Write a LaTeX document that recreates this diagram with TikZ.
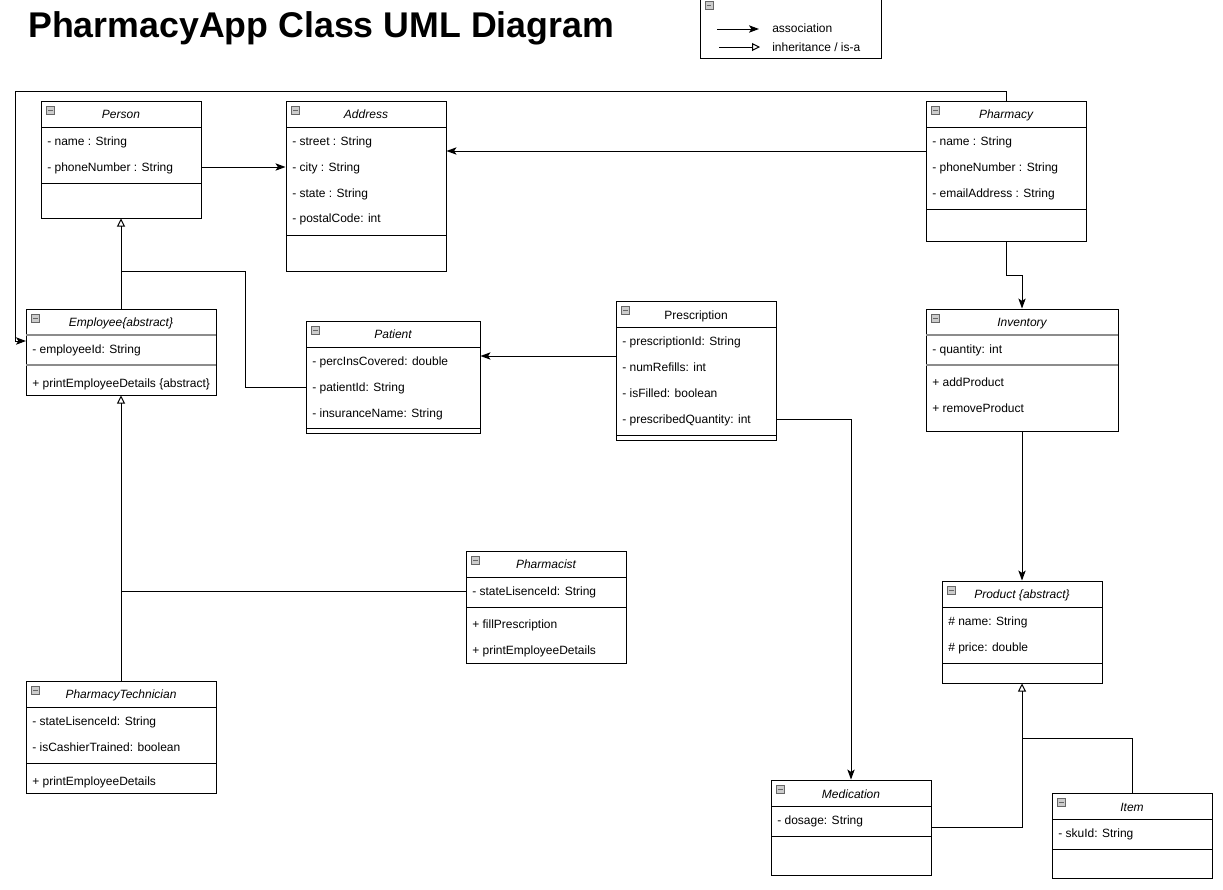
\documentclass[tikz,border=0pt]{standalone}
\usepackage{fontspec}
\setmainfont{Liberation Sans}
\usetikzlibrary{arrows.meta, positioning, fit, calc}
\tikzset{
    classbox/.style={
        rectangle,
        draw=black,
        line width=0.75pt,
        inner sep=0pt
    },
    classname/.style={
        inner sep=0pt,
        text height=7pt,
        text depth=0.4pt,
        font=\fontsize{9}{11}\selectfont\itshape
    },
    member/.style={
        anchor=west,
        inner sep=0pt,
        text height=7pt,
        text depth=0.4pt,
        font=\fontsize{9}{11}\selectfont
    },
    divider/.style={
        draw=black,
        line width=0.75pt
    },
    heavydivider/.style={
        draw=black!45,
        line width=1.5pt
    },
    toggle/.style={
        rectangle,
        draw=black!60,
        fill=black!20,
        line width=0.6pt,
        minimum size=6pt,
        inner sep=0pt,
        path picture={\draw[line width=0.7pt] ([xshift=1.2pt]path picture bounding box.west) -- ([xshift=-1.2pt]path picture bounding box.east);}
    },
    assoc/.style={
        draw=black,
        line width=0.75pt,
        -{Stealth[length=7.5pt, width=5.5pt, inset=1.8pt]}
    },
    inherit/.style={
        draw=black,
        line width=0.75pt,
        -{Triangle[open, length=6pt, width=6pt]}
    },
    joinline/.style={
        draw=black,
        line width=0.75pt
    }
}

\begin{document}
\begin{tikzpicture}[x=0.75pt, y=-0.75pt]
\useasboundingbox (0,0) rectangle (1223,889);

% Title
\node[anchor=base west, inner sep=0pt, font=\fontsize{26.8}{31}\selectfont\bfseries] (title) at (28,37) {PharmacyApp Class UML Diagram};

% Legend
\node[classbox, fit={(700,-1) (881,58)}] (legend) {};
\node[toggle] (legend-tg) at (709,5) {};
\coordinate (lg-a1) at (717,29);
\coordinate (lg-a2) at (759,29);
\draw[assoc] (lg-a1) -- (lg-a2);
\node[member] (lg-assoc) at (772,28) {association};
\coordinate (lg-i1) at (719,47);
\coordinate (lg-i2) at (760,47);
\draw[inherit] (lg-i1) -- (lg-i2);
\node[member] (lg-inh) at (772,47) {inheritance / is-a};

% Person
\node[classbox, fit={(41,101) (201,218)}] (person) {};
\node[toggle] (person-tg) at (50.5,110) {};
\node[classname] (person-title) at (121,114) {Person};
\draw[divider] (41,127) -- (201,127);
\node[member] (p-name) at (47,141) {- name : String};
\node[member] (p-phone) at (47,167) {- phoneNumber : String};
\draw[divider] (41,183) -- (201,183);

% Address
\node[classbox, fit={(286,101) (446,271)}] (address) {};
\node[toggle] (address-tg) at (295.5,110) {};
\node[classname] (address-title) at (366,114) {Address};
\draw[divider] (286,127) -- (446,127);
\node[member] (a-street) at (292,141) {- street : String};
\node[member] (a-city) at (292,167) {- city : String};
\node[member] (a-state) at (292,193) {- state : String};
\node[member] (a-postal) at (292,218) {- postalCode: int};
\draw[divider] (286,235) -- (446,235);

% Pharmacy
\node[classbox, fit={(926,101) (1086,241)}] (pharmacy) {};
\node[toggle] (pharmacy-tg) at (935.5,110) {};
\node[classname] (pharmacy-title) at (1006,114) {Pharmacy};
\draw[divider] (926,127) -- (1086,127);
\node[member] (ph-name) at (932,141) {- name : String};
\node[member] (ph-phone) at (932,167) {- phoneNumber : String};
\node[member] (ph-email) at (932,193) {- emailAddress : String};
\draw[divider] (926,209) -- (1086,209);

% Employee
\node[classbox, fit={(26,309) (216,395)}] (employee) {};
\node[toggle] (employee-tg) at (35.5,318) {};
\node[classname] (employee-title) at (121,322) {Employee\{abstract\}};
\draw[heavydivider] (26,335) -- (216,335);
\node[member] (e-id) at (32,349) {- employeeId: String};
\draw[heavydivider] (26,365) -- (216,365);
\node[member] (e-print) at (32,383) {+ printEmployeeDetails \{abstract\}};

% Patient
\node[classbox, fit={(306,321) (480,433)}] (patient) {};
\node[toggle] (patient-tg) at (315.5,330) {};
\node[classname] (patient-title) at (393,334) {Patient};
\draw[divider] (306,347) -- (480,347);
\node[member] (pa-perc) at (312,361) {- percInsCovered: double};
\node[member] (pa-id) at (312,387) {- patientId: String};
\node[member] (pa-ins) at (312,413) {- insuranceName: String};
\draw[divider] (306,428) -- (480,428);

% Prescription
\node[classbox, fit={(616,301) (776,440)}] (prescription) {};
\node[toggle] (prescription-tg) at (625.5,310) {};
\node[classname, font=\fontsize{9}{11}\selectfont] (prescription-title) at (696,315) {Prescription};
\draw[divider] (616,327) -- (776,327);
\node[member] (rx-id) at (622,341) {- prescriptionId: String};
\node[member] (rx-refills) at (622,367) {- numRefills: int};
\node[member] (rx-filled) at (622,393) {- isFilled: boolean};
\node[member] (rx-qty) at (622,419) {- prescribedQuantity: int};
\draw[divider] (616,435) -- (776,435);

% Inventory
\node[classbox, fit={(926,309) (1118,431)}] (inventory) {};
\node[toggle] (inventory-tg) at (935.5,318) {};
\node[classname] (inventory-title) at (1022,322) {Inventory};
\draw[heavydivider] (926,335) -- (1118,335);
\node[member] (i-qty) at (932,349) {- quantity: int};
\draw[heavydivider] (926,365) -- (1118,365);
\node[member] (i-add) at (932,382) {+ addProduct};
\node[member] (i-remove) at (932,408) {+ removeProduct};

% Pharmacist
\node[classbox, fit={(466,551) (626,663)}] (pharmacist) {};
\node[toggle] (pharmacist-tg) at (475.5,560) {};
\node[classname] (pharmacist-title) at (546,564) {Pharmacist};
\draw[divider] (466,577) -- (626,577);
\node[member] (ps-id) at (472,591) {- stateLisenceId: String};
\draw[divider] (466,607) -- (626,607);
\node[member] (ps-fill) at (472,624) {+ fillPrescription};
\node[member] (ps-print) at (472,650) {+ printEmployeeDetails};

% PharmacyTechnician
\node[classbox, fit={(26,681) (216,793)}] (tech) {};
\node[toggle] (tech-tg) at (35.5,690) {};
\node[classname] (tech-title) at (121,694) {PharmacyTechnician};
\draw[divider] (26,707) -- (216,707);
\node[member] (t-id) at (32,721) {- stateLisenceId: String};
\node[member] (t-cashier) at (32,747) {- isCashierTrained: boolean};
\draw[divider] (26,763) -- (216,763);
\node[member] (t-print) at (32,781) {+ printEmployeeDetails};

% Product
\node[classbox, fit={(942,581) (1102,683)}] (product) {};
\node[toggle] (product-tg) at (951.5,590) {};
\node[classname] (product-title) at (1022,594) {Product \{abstract\}};
\draw[divider] (942,607) -- (1102,607);
\node[member] (pr-name) at (948,621) {\# name: String};
\node[member] (pr-price) at (948,647) {\# price: double};
\draw[divider] (942,663) -- (1102,663);

% Medication
\node[classbox, fit={(771,780) (931,875)}] (medication) {};
\node[toggle] (medication-tg) at (780.5,789) {};
\node[classname] (medication-title) at (851,794) {Medication};
\draw[divider] (771,806) -- (931,806);
\node[member] (m-dosage) at (777,820) {- dosage: String};
\draw[divider] (771,836) -- (931,836);

% Item
\node[classbox, fit={(1052,793) (1212,878)}] (item) {};
\node[toggle] (item-tg) at (1061.5,802) {};
\node[classname] (item-title) at (1132,807) {Item};
\draw[divider] (1052,819) -- (1212,819);
\node[member] (it-sku) at (1058,833) {- skuId: String};
\draw[divider] (1052,849) -- (1212,849);

% Associations
\coordinate (ph-out) at (926,151);
\coordinate (looptop) at (15,91);
\coordinate (emp-in) at (26,341);
\coordinate (rx-out) at (616,356);
\draw[assoc] (p-phone -| person.east) -- (p-phone -| address.west);
\draw[assoc] (ph-out) -- (ph-out -| address.east);
\draw[assoc] (pharmacy.north) |- (looptop) |- (emp-in);
\draw[assoc] (pharmacy.south) -- ++(0,34) -| (inventory.north);
\draw[assoc] (inventory.south) -- (product.north);
\draw[assoc] (rx-out) -- (rx-out -| patient.east);
\draw[assoc] (rx-qty -| prescription.east) -| (medication.north);

% Inheritance
\coordinate (pjoin) at (121,271);
\coordinate (ejoin) at (121,591);
\coordinate (md-out) at (931,827);
\coordinate (ijoin) at (1022,738);
\draw[inherit] (employee.north) -- (person.south);
\draw[joinline] (pa-id -| patient.west) -- ++(-60,0) |- (pjoin);
\draw[inherit] (tech.north) -- (employee.south);
\draw[joinline] (ps-id -| pharmacist.west) -- (ejoin);
\draw[inherit] (md-out) -| (product.south);
\draw[joinline] (item.north) |- (ijoin);

\end{tikzpicture}
\end{document}
